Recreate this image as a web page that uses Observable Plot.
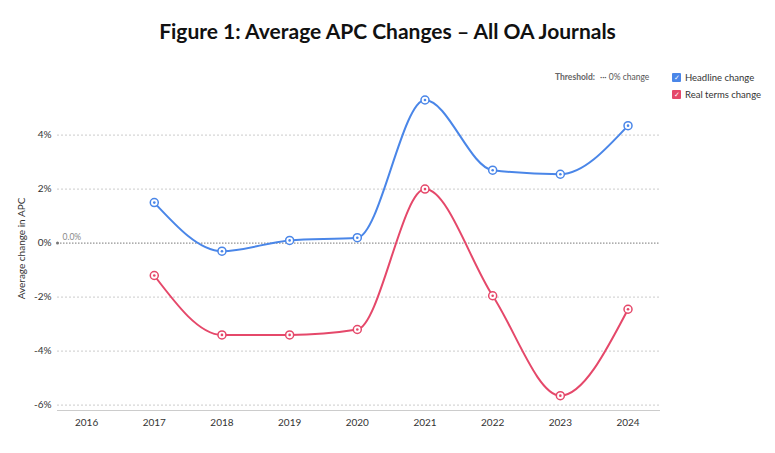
<!DOCTYPE html>
<html><head><meta charset="utf-8">
<script src="https://cdn.jsdelivr.net/npm/d3@7"></script>
<script src="https://cdn.jsdelivr.net/npm/@observablehq/plot@0.6"></script>
<style>
body{margin:0;background:#fff;font-family:Lato,sans-serif;width:775px;height:453px;position:relative;overflow:hidden}
#title{position:absolute;top:18px;left:0;width:775px;text-align:center;font-weight:bold;font-size:21px;color:#111}
#chart{position:absolute;top:60px;left:0}
.leg{position:absolute;font-size:9.5px;color:#333;display:flex;align-items:center}
.box{width:9px;height:9px;border-radius:1px;margin-right:4px;color:#fff;font-size:7px;line-height:9px;text-align:center}
</style></head><body>
<div id="title">Figure 1: Average APC Changes – All OA Journals</div>
<div class="leg" style="left:555px;top:72px;color:#666;font-size:8.5px"><b style="margin-right:5px">Threshold:</b><span style="color:#555">··· 0% change</span></div>
<div class="leg" style="left:672px;top:72px"><div class="box" style="background:#4a86e8">✓</div>Headline change</div>
<div class="leg" style="left:672px;top:89px"><div class="box" style="background:#e5486a">✓</div>Real terms change</div>
<div id="chart"></div>
<script>
const years = [2017,2018,2019,2020,2021,2022,2023,2024];
const headline = [1.5,-0.3,0.1,0.2,5.3,2.7,2.55,4.35];
const realTerms = [-1.2,-3.4,-3.4,-3.2,2.0,-1.95,-5.65,-2.45];
const tickYears = [2016,2017,2018,2019,2020,2021,2022,2023,2024];
const yTicks = [-6,-4,-2,0,2,4];
const blue="#4a86e8", red="#e5486a";
const H = years.map((y,i)=>({year:y,v:headline[i]}));
const R = years.map((y,i)=>({year:y,v:realTerms[i]}));
const plot = Plot.plot({
  width:775,height:393,marginLeft:57,marginRight:115,marginTop:26,marginBottom:43,
  style:{fontFamily:"Lato, sans-serif",fontSize:"10px",color:"#333"},
  x:{domain:[2015.57,2024.48],ticks:tickYears,tickFormat:d=>String(d),tickSize:0,label:null,tickPadding:8},
  y:{domain:[-6.2,5.8],ticks:yTicks,tickFormat:d=>d+"%",tickSize:0,label:"Average change in APC",labelAnchor:"center",labelArrow:"none",labelOffset:40,tickPadding:6},
  marks:[
    Plot.gridY(yTicks.filter(d=>d!==0),{stroke:"#ccc",strokeDasharray:"2,2",strokeOpacity:1}),
    Plot.ruleY([-6.2],{stroke:"#ccc"}),
    Plot.ruleY([0],{x1:2015.57,x2:2024.48,stroke:"#777",strokeDasharray:"1.5,1.5"}),
    Plot.dot([{x:2015.57,y:0}],{x:"x",y:"y",r:1.5,fill:"#777"}),
    Plot.text([{x:2015.57,y:0}],{x:"x",y:"y",text:()=>"0.0%",dx:5,dy:-6,textAnchor:"start",fill:"#888",fontSize:8.5}),
    Plot.line(H,{x:"year",y:"v",stroke:blue,strokeWidth:2,curve:"monotone-x"}),
    Plot.line(R,{x:"year",y:"v",stroke:red,strokeWidth:2,curve:"monotone-x"}),
    Plot.dot(H,{x:"year",y:"v",r:4,fill:"white",stroke:blue,strokeWidth:1.5}),
    Plot.dot(H,{x:"year",y:"v",r:1.3,fill:blue}),
    Plot.dot(R,{x:"year",y:"v",r:4,fill:"white",stroke:red,strokeWidth:1.5}),
    Plot.dot(R,{x:"year",y:"v",r:1.3,fill:red})
  ]
});
document.getElementById("chart").append(plot);
</script></body></html>
